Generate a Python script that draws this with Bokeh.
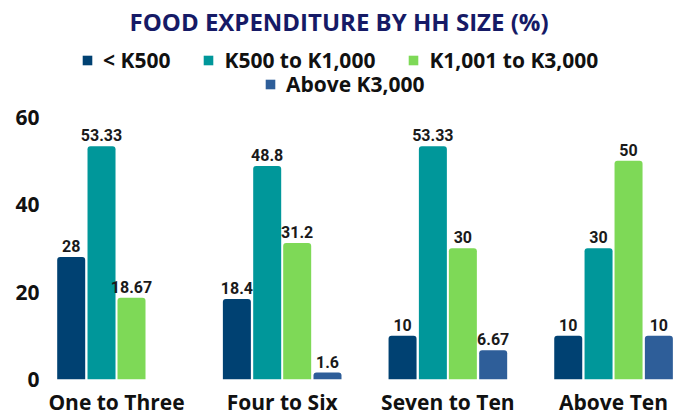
from bokeh.plotting import figure
from bokeh.models import (ColumnDataSource, Range1d, FixedTicker, Legend, LegendItem,
                          LabelSet)
from bokeh.transform import dodge
from bokeh.core.properties import value
from bokeh.embed import file_html
from bokeh.resources import INLINE

# ---- data ----
categories = ["One to Three", "Four to Six", "Seven to Ten", "Above Ten"]
series_names = ["< K500", "K500 to K1,000", "K1,001 to K3,000", "Above K3,000"]
below_500 = [28, 18.4, 10, 10]
k500_to_k1000 = [53.33, 48.8, 53.33, 30]
k1001_to_k3000 = [18.67, 31.2, 30, 50]
above_3000 = [0, 1.6, 6.67, 10]
y_ticks = [0, 20, 40, 60]

series_values = [below_500, k500_to_k1000, k1001_to_k3000, above_3000]
colors = ["#004172", "#00979a", "#7ed957", "#2e5e99"]
offsets = [-0.2735, -0.0905, 0.0905, 0.2735]

MAIN_FONT = "Open Sans"
NUM_FONT = "Liberation Sans Narrow, Roboto"

p = figure(width=677, height=418, output_backend="svg", toolbar_location=None,
           x_range=Range1d(-0.4105, 3.386), y_range=Range1d(0, 77.5),
           min_border_left=48, min_border_right=0, min_border_top=40,
           min_border_bottom=37)
p.outline_line_color = None
p.xgrid.visible = False
p.ygrid.visible = False
p.background_fill_color = "white"
p.border_fill_color = "white"

p.title.text = "FOOD EXPENDITURE BY HH SIZE (%)"
p.title.text_font = MAIN_FONT
p.title.text_font_size = "24px"
p.title.text_font_style = "bold"
p.title.text_color = "#161a66"
p.title.align = "left"
p.title.offset = 81
p.title.standoff = 5

x_idx = list(range(len(categories)))
renderers = []
for name, vals, col, off in zip(series_names, series_values, colors, offsets):
    src = ColumnDataSource(dict(
        x=x_idx, top=vals,
        lbl=["" if v == 0 else f"{v:g}" for v in vals]))
    r = p.vbar(x=dodge("x", off), top="top", bottom=0, width=0.169, source=src,
               fill_color=col, line_color=None, border_radius=(3, 3, 0, 0))
    renderers.append(r)
    labels = LabelSet(x=dodge("x", off), y="top", text="lbl", source=src,
                      text_align="center", text_baseline="alphabetic", y_offset=5,
                      text_font=value(NUM_FONT), text_font_size="16px",
                      text_font_style="bold", text_color="#1a1a1a")
    p.add_layout(labels)

# axes
p.yaxis.ticker = FixedTicker(ticks=y_ticks)
p.yaxis.axis_line_color = None
p.yaxis.major_tick_line_color = None
p.yaxis.minor_tick_line_color = None
p.yaxis.major_tick_out = 0
p.yaxis.major_label_standoff = 9
p.yaxis.major_label_text_font = MAIN_FONT
p.yaxis.major_label_text_font_size = "21px"
p.yaxis.major_label_text_font_style = "bold"
p.yaxis.major_label_text_color = "#111111"

p.xaxis.ticker = FixedTicker(ticks=x_idx)
p.xaxis.major_label_overrides = {i: c for i, c in enumerate(categories)}
p.xaxis.axis_line_color = None
p.xaxis.major_tick_line_color = None
p.xaxis.minor_tick_line_color = None
p.xaxis.major_tick_out = 0
p.xaxis.major_label_standoff = 8
p.xaxis.major_label_text_font = MAIN_FONT
p.xaxis.major_label_text_font_size = "21px"
p.xaxis.major_label_text_font_style = "bold"
p.xaxis.major_label_text_color = "#111111"


def make_legend(items, loc):
    lg = Legend(items=items, location=loc, orientation="horizontal",
                padding=0, margin=0, spacing=32, glyph_width=12, glyph_height=12,
                label_standoff=10, label_height=28,
                label_text_font=MAIN_FONT, label_text_font_size="21px",
                label_text_font_style="bold", label_text_color="#111111",
                border_line_color=None, background_fill_alpha=0)
    return lg

leg1 = make_legend([LegendItem(label=series_names[i], renderers=[renderers[i]])
                    for i in range(3)], (33, 305.5))
leg2 = make_legend([LegendItem(label=series_names[3], renderers=[renderers[3]])],
                   (216, 281.5))
p.add_layout(leg1)
p.add_layout(leg2)

open("out.html", "w").write(file_html(p, INLINE))
